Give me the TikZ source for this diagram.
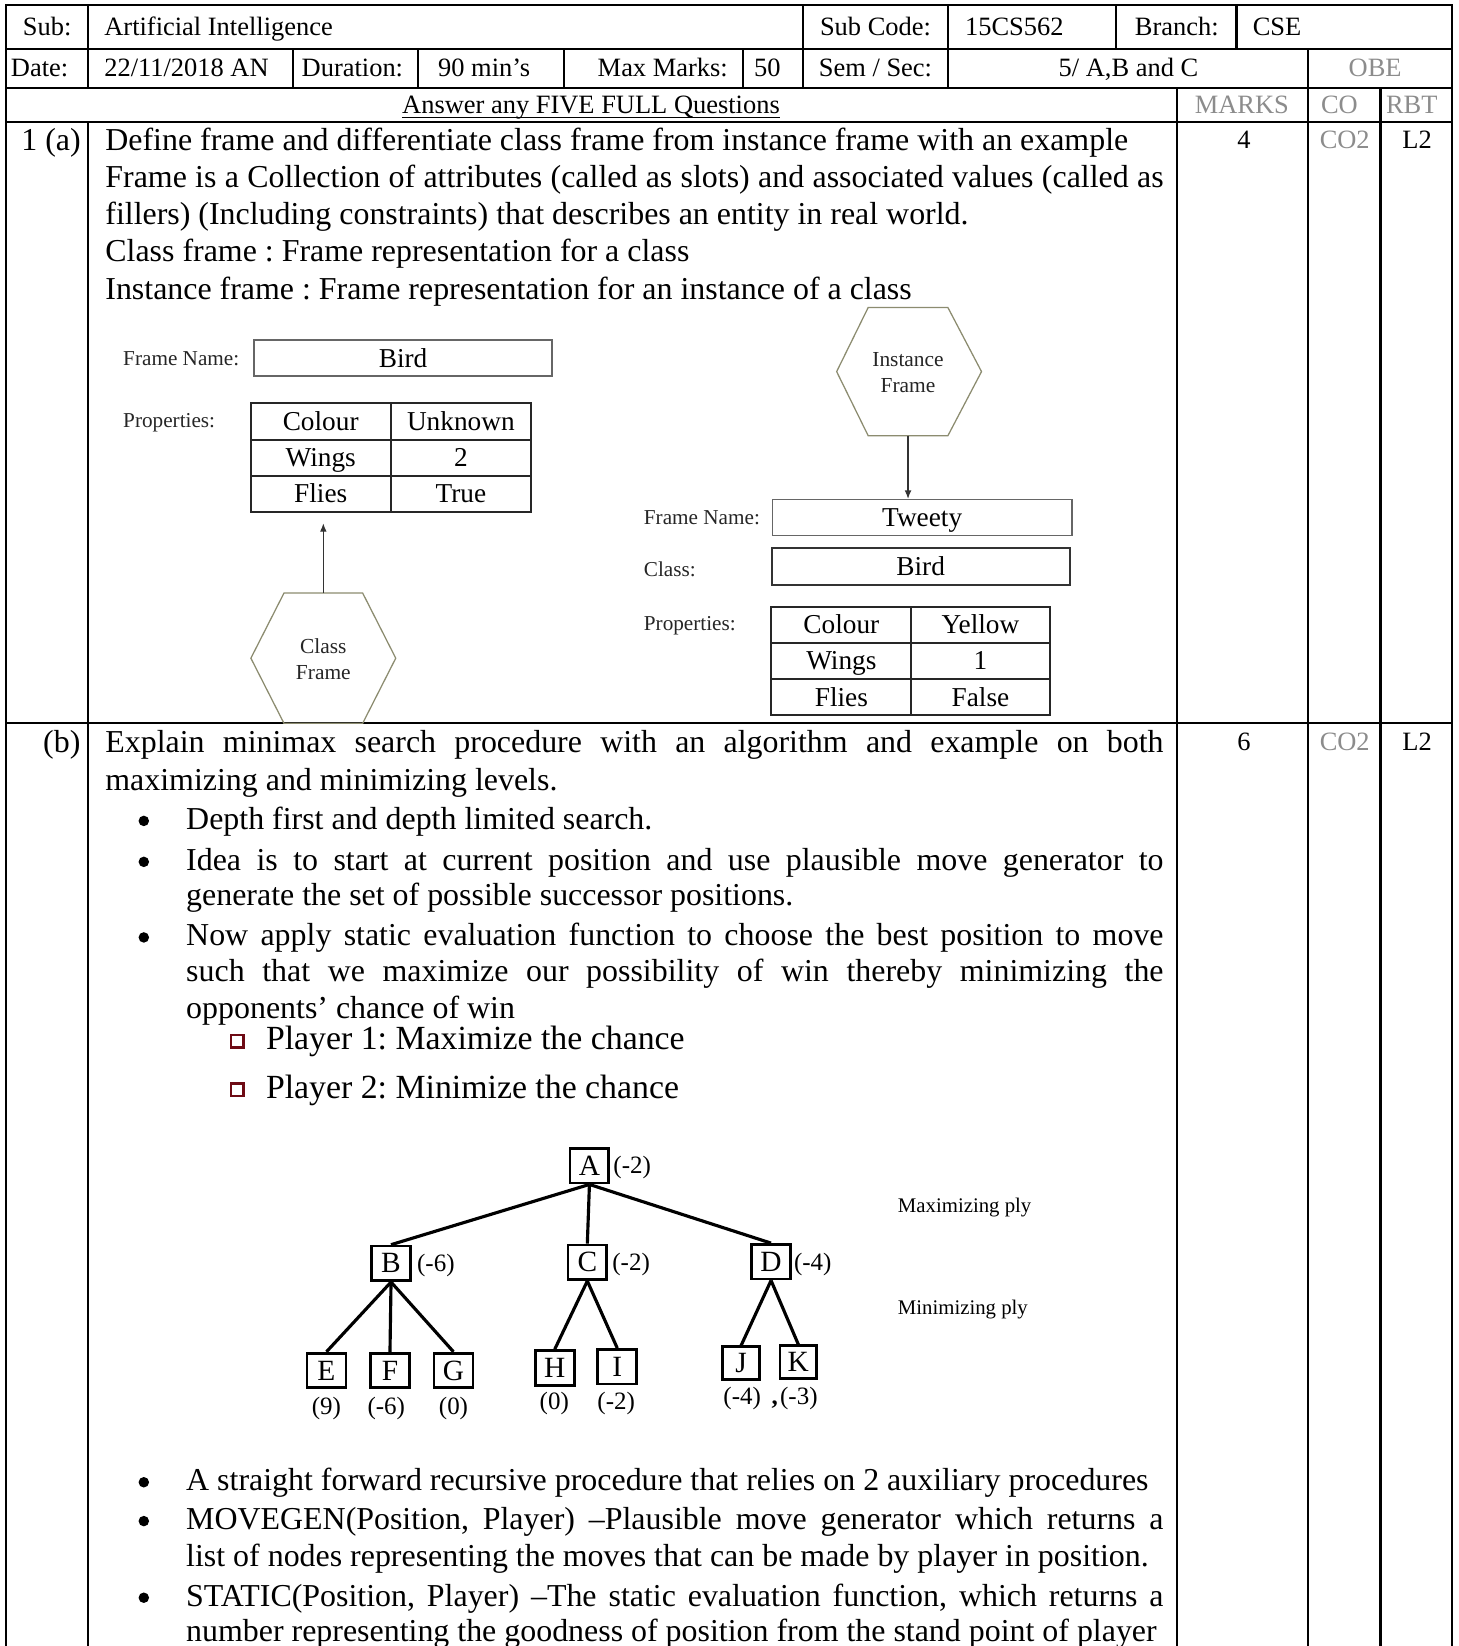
\documentclass[tikz,border=0pt]{standalone}
\usepackage{fontspec}
\setmainfont{Liberation Serif}
\usetikzlibrary{arrows.meta,calc}
\newcommand{\myfs}[1]{\fontsize{#1}{#1}\selectfont}
\newcommand{\jus}[2]{\makebox[#1][s]{#2}}
\definecolor{hexcol}{RGB}{140,140,112}
\definecolor{sqred}{RGB}{110,10,20}
\begin{document}
\frenchspacing
\begin{tikzpicture}[x=0.5pt,y=-0.5pt,
  grid/.style={line width=1.1pt,line cap=rect},
  hdr/.style={font=\myfs{12.6pt},inner sep=0,anchor=base west},
  hdrc/.style={font=\myfs{12.6pt},inner sep=0,anchor=base},
  gry/.style={text=black!45},
  body/.style={font=\myfs{15.2pt},inner sep=0,anchor=base west},
  bul/.style={circle,fill=black,inner sep=0,minimum size=5pt},
  play/.style={font=\myfs{16.1pt},inner sep=0,anchor=base west},
  lbl/.style={font=\myfs{10.1pt},inner sep=0,anchor=base west,text=black!85},
  fbox/.style={draw=black!60,line width=0.75pt,inner sep=0,font=\myfs{13pt},text height=1.08em,text depth=0.2em},
  tcell/.style={draw=black!85,line width=0.95pt,inner sep=0,minimum width=66.6pt,minimum height=17.2pt,font=\myfs{13pt},text height=1.06em,text depth=0.2em},
  hexl/.style={font=\fontsize{10.2pt}{12.5pt}\selectfont,align=center,inner sep=0,text=black!85},
  hexd/.style={draw=hexcol,line width=0.6pt},
  arr/.style={draw=black!80,line width=0.6pt,-{Latex[length=4pt,width=3.2pt]}},
  tnode/.style={draw,line width=1.3pt,minimum width=18.5pt,minimum height=16.5pt,inner sep=0,font=\myfs{14pt}},
  tedge/.style={line width=1.5pt},
  val/.style={font=\myfs{11.9pt},inner sep=0,anchor=base west},
  valc/.style={font=\myfs{11.9pt},inner sep=0,anchor=base},
  ply/.style={font=\myfs{9.9pt},inner sep=0,anchor=base west}
]
\useasboundingbox (0,0) rectangle (1389,1568);
\clip (0,0) rectangle (1389,1568);
\fill[white] (0,0) rectangle (1389,1568);

% ---------- grid ----------
\draw[grid] (6,5) -- (1383,5);
\draw[grid] (6,47) -- (1383,47);
\draw[grid] (6,84) -- (1383,84);
\draw[grid] (6,116) -- (1383,116);
\draw[grid] (6,689) -- (1383,689);
\draw[grid] (6,5) -- (6,1575);
\draw[grid] (1383,5) -- (1383,1575);
\draw[grid] (84,5) -- (84,84);
\draw[grid] (84,116) -- (84,1575);
\draw[grid] (765,5) -- (765,84);
\draw[grid] (903,5) -- (903,84);
\draw[grid] (1063,5) -- (1063,47);
\draw[grid] (1178,5) -- (1178,47);
\draw[grid] (279,47) -- (279,84);
\draw[grid] (398,47) -- (398,84);
\draw[grid] (537,47) -- (537,84);
\draw[grid] (708,47) -- (708,84);
\draw[grid] (1246,47) -- (1246,1575);
\draw[grid] (1121,84) -- (1121,1575);
\draw[grid] (1315,84) -- (1315,1575);

% ---------- header ----------
\node[hdrc] (hsub) at (45,34) {Sub:};
\node[hdr] (hsubv) at (99,34) {Artificial Intelligence};
\node[hdrc] (hcode) at (834,34) {Sub Code:};
\node[hdr] (hcodev) at (919,34) {15CS562};
\node[hdrc] (hbr) at (1121,34) {Branch:};
\node[hdr] (hbrv) at (1193,34) {CSE};
\node[hdr] (hdate) at (10,73) {Date:};
\node[hdr] (hdatev) at (99,73) {22/11/2018 AN};
\node[hdr] (hdur) at (287,73) {Duration:};
\node[hdr] (hdurv) at (417,73) {90 min’s};
\node[hdr] (hmax) at (569,73) {Max Marks:};
\node[hdr] (hmaxv) at (718,73) {50};
\node[hdrc] (hsem) at (834,73) {Sem / Sec:};
\node[hdrc] (hsemv) at (1075,73) {5/ A,B and C};
\node[hdrc,gry] (hobe) at (1310,73) {OBE};
\node[hdrc] (hans) at (563,108) {Answer any FIVE FULL Questions};
\draw[line width=0.55pt] ([yshift=-1.8pt]hans.base west) -- ([yshift=-1.8pt]hans.base east);
\node[hdrc,gry] (hmarks) at (1183,108) {MARKS};
\node[hdr,gry] (hco) at (1258,108) {CO};
\node[hdr,gry] (hrbt) at (1320,108) {RBT};

% ---------- question 1(a) ----------
\node[body] (qa) at (20,143) {1 (a)};
\node[body] (ta1) at (100,143) {Define frame and differentiate class frame from instance frame with an example};
\node[body] (ta2) at (100,179) {\jus{504pt}{Frame is a Collection of attributes (called as slots) and associated values (called as}};
\node[body] (ta3) at (100,214) {fillers) (Including constraints) that describes an entity in real world.};
\node[body] (ta4) at (100,249) {Class frame : Frame representation for a class};
\node[body] (ta5) at (100,285) {Instance frame : Frame representation for an instance of a class};
\node[hdrc] (ma) at (1185,141) {4};
\node[hdrc,gry] (coa) at (1281,141) {CO2};
\node[hdrc] (rba) at (1350,141) {L2};

% class frame diagram
\node[lbl] (fnA) at (117,348) {Frame Name:};
\node[fbox,minimum width=142pt,minimum height=17pt] (birdA) at (384,341) {Bird};
\node[lbl] (prA) at (117,407) {Properties:};
\node[tcell] (a11) at (305.5,401.5) {Colour};
\node[tcell] (a12) at (439,401.5) {Unknown};
\node[tcell] (a21) at (305.5,436) {Wings};
\node[tcell] (a22) at (439,436) {2};
\node[tcell] (a31) at (305.5,470.3) {Flies};
\node[tcell] (a32) at (439,470.3) {True};
\draw[hexd] (270.5,565) -- (345.5,565) -- (377,627) -- (345.5,689) -- (270.5,689) -- (239,627) -- cycle;
\node[hexl] (classF) at (308,628) {Class\\Frame};
\coordinate (classtop) at (308,565);
\draw[arr,shorten >=5pt] (classtop) -- (classtop |- a31.south);

% instance frame diagram
\draw[hexd] (827,293) -- (903,293) -- (935,354) -- (903,415) -- (827,415) -- (797,354) -- cycle;
\node[hexl] (instF) at (865,355) {Instance\\Frame};
\coordinate (instbot) at (865,415);
\node[lbl] (fnB) at (613,500) {Frame Name:};
\node[fbox,minimum width=142.5pt,minimum height=17pt] (tweety) at (878.5,493) {Tweety};
\node[lbl] (clB) at (613,549) {Class:};
\node[fbox,line width=0.9pt,draw=black!80,minimum width=142pt,minimum height=17.5pt] (birdB) at (877,539.5) {Bird};
\node[lbl] (prB) at (613,601) {Properties:};
\node[tcell] (b11) at (801.5,595) {Colour};
\node[tcell] (b12) at (934,595) {Yellow};
\node[tcell] (b21) at (801.5,629.5) {Wings};
\node[tcell] (b22) at (934,629.5) {1};
\node[tcell] (b31) at (801.5,664) {Flies};
\node[tcell] (b32) at (934,664) {False};
\draw[arr] (instbot) -- (instbot |- tweety.north);

% ---------- question 1(b) ----------
\node[body,anchor=base east] (qb) at (77,717) {(b)};
\node[body] (tb1) at (100,717) {\jus{504pt}{Explain minimax search procedure with an algorithm and example on both}};
\node[body] (tb2) at (100,753) {maximizing and minimizing levels.};
\node[hdrc] (mb) at (1185,715) {6};
\node[hdrc,gry] (cob) at (1281,715) {CO2};
\node[hdrc] (rbb) at (1350,715) {L2};

\node[bul] (b1) at (137,782) {};
\node[body] (l1) at (177,790) {Depth first and depth limited search.};
\node[bul] (b2) at (137,821) {};
\node[body] (l2) at (177,829) {\jus{465.5pt}{Idea is to start at current position and use plausible move generator to}};
\node[body] (l2b) at (177,863) {generate the set of possible successor positions.};
\node[bul] (b3) at (137,893) {};
\node[body] (l3) at (177,901) {\jus{465.5pt}{Now apply static evaluation function to choose the best position to move}};
\node[body] (l3b) at (177,935) {\jus{465.5pt}{such that we maximize our possibility of win thereby minimizing the}};
\node[body] (l3c) at (177,970) {opponents’ chance of win};

\draw[draw=sqred,line width=1.3pt] (220,986) rectangle (232,998);
\node[play] (p1) at (253,1000) {Player 1: Maximize the chance};
\draw[draw=sqred,line width=1.3pt] (220,1032) rectangle (232,1044);
\node[play] (p2) at (253,1046) {Player 2: Minimize the chance};

% ---------- minimax tree ----------
\node[tnode] (A) at (561.5,1110.5) {A};
\node[tnode] (B) at (372.5,1203.5) {B};
\node[tnode] (C) at (559.5,1202.5) {C};
\node[tnode] (D) at (734.5,1202) {D};
\node[tnode] (E) at (311,1305.5) {E};
\node[tnode] (F) at (371.5,1305.5) {F};
\node[tnode] (G) at (432,1305.5) {G};
\node[tnode] (H) at (528.5,1303) {H};
\node[tnode] (I) at (588,1302) {I};
\node[tnode,minimum width=17.5pt,minimum height=15.5pt] (J) at (706,1298.5) {J};
\node[tnode,minimum width=17.5pt,minimum height=15.5pt] (K) at (760.5,1297.5) {K};
\draw[tedge] (A.south) -- (B.north);
\draw[tedge] (A.south) -- (C.north);
\draw[tedge] (A.south) -- (D.north);
\draw[tedge] (B.south) -- (E.north);
\draw[tedge] (B.south) -- (F.north);
\draw[tedge] (B.south) -- (G.north);
\draw[tedge] (C.south) -- (H.north);
\draw[tedge] (C.south) -- (I.north);
\draw[tedge] (D.south) -- (J.north);
\draw[tedge] (D.south) -- (K.north);
\node[val] (vA) at (584,1118) {(-2)};
\node[val] (vB) at (397,1211) {(-6)};
\node[val] (vC) at (583,1210) {(-2)};
\node[val] (vD) at (756,1210) {(-4)};
\node[valc] (vE) at (311,1347) {(9)};
\node[valc] (vF) at (368,1347) {(-6)};
\node[valc] (vG) at (432,1347) {(0)};
\node[valc] (vH) at (528,1343) {(0)};
\node[valc] (vI) at (587,1343) {(-2)};
\node[valc] (vJ) at (707,1338) {(-4)};
\node[valc,font=\bfseries\myfs{11.9pt}] (vcomma) at (738,1338) {,};
\node[valc] (vK) at (761,1338) {(-3)};
\node[ply] (pmax) at (855,1155) {Maximizing ply};
\node[ply] (pmin) at (855,1252) {Minimizing ply};

% ---------- remaining bullets ----------
\node[bul] (b4) at (137,1412) {};
\node[body] (l4) at (177,1420) {A straight forward recursive procedure that relies on 2 auxiliary procedures};
\node[bul] (b5) at (137,1449) {};
\node[body] (l5) at (177,1457) {\jus{465.5pt}{MOVEGEN(Position, Player) –Plausible move generator which returns a}};
\node[body] (l5b) at (177,1492) {list of nodes representing the moves that can be made by player in position.};
\node[bul] (b6) at (137,1522) {};
\node[body] (l6) at (177,1530) {\jus{465.5pt}{STATIC(Position, Player) –The static evaluation function, which returns a}};
\node[body] (l6b) at (177,1564) {number representing the goodness of position from the stand point of player};
\end{tikzpicture}
\end{document}
